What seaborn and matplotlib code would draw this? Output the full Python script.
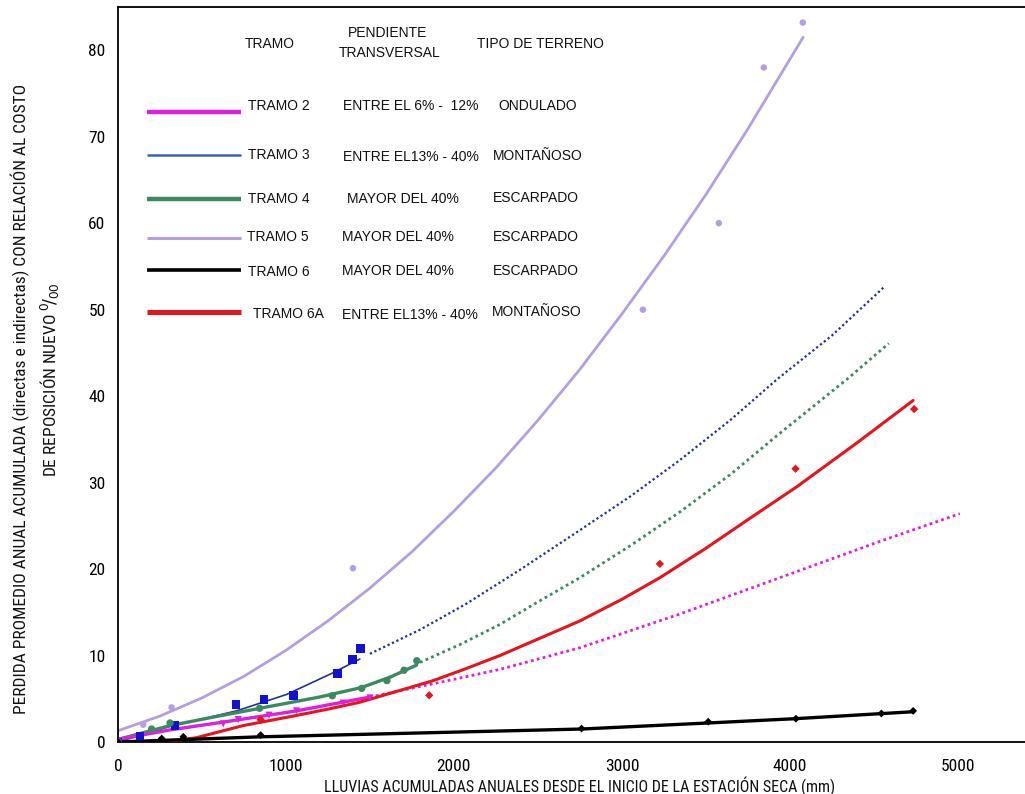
import matplotlib
matplotlib.use("Agg")
import os
import matplotlib.pyplot as plt
import matplotlib.font_manager as fm
import seaborn as sns
import pandas as pd

# ---------------- data ----------------
# Tramo 2 (magenta)
t2_obs_x = [0, 627, 716, 899, 1063, 1341, 1500]
t2_obs_y = [0, 2.1, 2.6, 3.1, 3.6, 4.5, 5.1]
t2_fit_x = [0, 310, 627, 1063, 1500]
t2_fit_y = [0.3, 1.4, 2.3, 3.6, 5.2]
t2_ext_x = [1500, 1917, 2274, 2750, 3345, 3940, 4536, 5012]
t2_ext_y = [5.2, 6.9, 8.4, 10.9, 14.8, 19.0, 23.2, 26.4]

# Tramo 3 (blue)
t3_obs_x = [0, 131, 339, 702, 869, 1044, 1305, 1397, 1446]
t3_obs_y = [0, 0.7, 1.9, 4.3, 4.9, 5.4, 7.9, 9.5, 10.8]
t3_fit_x = [0, 310, 706, 1004, 1280, 1440]
t3_fit_y = [0, 1.8, 3.6, 5.5, 8.0, 9.6]
t3_ext_x = [1500, 1800, 2075, 2400, 2750, 3050, 3345, 3650, 3921, 4250, 4560]
t3_ext_y = [10.2, 13.0, 16.0, 20.0, 24.5, 28.4, 32.6, 37.3, 41.9, 47.0, 52.6]

# Tramo 4 (green)
t4_obs_x = [0, 200, 310, 843, 1276, 1451, 1601, 1703, 1779]
t4_obs_y = [0, 1.5, 2.2, 3.9, 5.35, 6.2, 7.1, 8.3, 9.4]
t4_fit_x = [0, 310, 600, 845, 1200, 1450, 1620, 1778]
t4_fit_y = [0.3, 1.9, 3.0, 3.9, 5.2, 6.3, 7.5, 8.9]
t4_ext_x = [1798, 2050, 2274, 2500, 2750, 3050, 3345, 3650, 3940, 4337, 4589]
t4_ext_y = [9.2, 11.4, 13.6, 16.2, 19.0, 22.7, 26.6, 31.0, 35.7, 41.9, 46.1]

# Tramo 5 (lavender)
t5_obs_x = [150, 319, 1399, 3125, 3577, 3845, 4077]
t5_obs_y = [2.0, 4.0, 20.1, 50.0, 60.0, 78.0, 83.2]
t5_fit_x = [0, 250, 500, 750, 1000, 1250, 1500, 1750, 2000, 2250, 2500, 2750,
            3000, 3250, 3500, 3750, 4079]
t5_fit_y = [1.3, 3.0, 5.1, 7.6, 10.6, 14.0, 17.8, 22.0, 26.7, 31.7, 37.2, 43.1,
            49.5, 56.2, 63.3, 70.9, 81.5]

# Tramo 6 (black)
t6_obs_x = [0, 260, 389, 849, 2760, 3514, 4036, 4545, 4734]
t6_obs_y = [0, 0.4, 0.6, 0.8, 1.55, 2.35, 2.7, 3.3, 3.6]
t6_fit_x = [0, 849, 1700, 2760, 3514, 4036, 4734]
t6_fit_y = [0, 0.6, 1.0, 1.5, 2.2, 2.7, 3.5]

# Tramo 6A (red)
t6a_obs_x = [849, 1853, 3226, 4034, 4740]
t6a_obs_y = [2.6, 5.4, 20.6, 31.6, 38.5]
t6a_fit_x = [280, 468, 746, 1044, 1250, 1440, 1650, 1877, 2074, 2274, 2500, 2750,
             3000, 3226, 3500, 3742, 4040, 4400, 4734]
t6a_fit_y = [0.0, 0.5, 1.9, 3.0, 3.8, 4.6, 5.8, 7.1, 8.5, 10.0, 11.9, 14.0,
             16.5, 19.0, 22.4, 25.6, 29.5, 34.6, 39.5]

x_ticks = [0, 1000, 2000, 3000, 4000, 5000]
y_ticks = [0, 10, 20, 30, 40, 50, 60, 70, 80]

legend_tramos = ["TRAMO 2", "TRAMO 3", "TRAMO 4", "TRAMO 5", "TRAMO 6", "TRAMO 6A"]
legend_pend = ["ENTRE EL 6% -  12%", "ENTRE EL13% - 40%", "MAYOR DEL 40%",
               "MAYOR DEL 40%", "MAYOR DEL 40%", "ENTRE EL13% - 40%"]
legend_terr = ["ONDULADO", "MONTAÑOSO", "ESCARPADO", "ESCARPADO", "ESCARPADO", "MONTAÑOSO"]

# ---------------- style ----------------
sns.set_theme(style="white")
plt.rcParams["font.family"] = ["Liberation Sans", "DejaVu Sans"]

# look for a condensed font file
narrow_path = None
prefs = ["LiberationSansNarrow-Regular", "RobotoCondensed-Regular",
         "DejaVuSansCondensed.ttf", "OpenSans_Condensed-Regular", "OpenSansCondensed"]
files = [f.fname for f in fm.fontManager.ttflist]
for p in prefs:
    for fn in files:
        if p in os.path.basename(fn):
            narrow_path = fn
            break
    if narrow_path:
        break


def nfont(size):
    if narrow_path:
        return fm.FontProperties(fname=narrow_path, size=size)
    return fm.FontProperties(family=["Liberation Sans", "DejaVu Sans"], size=size * 0.86)


C_MAG = "#e01ee0"
C_BLUE_LINE = "#2030a0"
C_BLUE_LEG = "#3a60c8"
C_BLUE_MK = "#1010d8"
C_GREEN = "#3a8c60"
C_LAV = "#b59ee8"
C_BLACK = "#000000"
C_RED = "#e8141c"

W, H = 1025, 794
fig = plt.figure(figsize=(W / 100, H / 100), dpi=100)
L, R, T, B = 118, 1025, 7, 742
ax = fig.add_axes([L / W, 1 - B / H, (R - L) / W, (B - T) / H])


def line(x, y, color, lw, ls="-", z=2):
    df = pd.DataFrame({"x": x, "y": y})
    sns.lineplot(data=df, x="x", y="y", ax=ax, color=color, lw=lw, linestyle=ls,
                 estimator=None, sort=False, zorder=z)


def pts(x, y, color, marker, s):
    df = pd.DataFrame({"x": x, "y": y})
    sns.scatterplot(data=df, x="x", y="y", ax=ax, color=color, marker=marker, s=s,
                    edgecolor="none", linewidth=0, zorder=4)


dot = (0, (1.0, 1.2))
# lavender
line(t5_fit_x, t5_fit_y, C_LAV, 2.0)
pts(t5_obs_x, t5_obs_y, C_LAV, "o", 22)
# blue
line(t3_fit_x, t3_fit_y, C_BLUE_LINE, 1.2)
line(t3_ext_x, t3_ext_y, C_BLUE_LINE, 1.6, dot)
pts(t3_obs_x, t3_obs_y, C_BLUE_MK, "s", 40)
# green
line(t4_fit_x, t4_fit_y, C_GREEN, 2.4)
line(t4_ext_x, t4_ext_y, C_GREEN, 2.0, dot)
pts(t4_obs_x, t4_obs_y, C_GREEN, "o", 28)
# magenta
line(t2_fit_x, t2_fit_y, C_MAG, 2.4)
line(t2_ext_x, t2_ext_y, C_MAG, 2.0, dot)
pts(t2_obs_x, t2_obs_y, C_MAG, "v", 26)
# red
line(t6a_fit_x, t6a_fit_y, C_RED, 2.2, z=3)
pts(t6a_obs_x, t6a_obs_y, C_RED, "D", 18)
# black
line(t6_fit_x, t6_fit_y, C_BLACK, 2.4, z=3)
pts(t6_obs_x, t6_obs_y, C_BLACK, "D", 16)

ax.set_xlim(0, 5400)
ax.set_ylim(0, 85)
ax.set_xticks(x_ticks)
ax.set_yticks(y_ticks)
ax.set_xlabel("")
ax.set_ylabel("")
for sp in ["left", "bottom", "top"]:
    ax.spines[sp].set_color("black")
    ax.spines[sp].set_linewidth(1.3)
ax.spines["right"].set_visible(False)
ax.tick_params(axis="both", direction="out", length=5, width=1.0, color="black",
               labelcolor="black", pad=4)
ax.tick_params(axis="x", pad=7)
for lab in ax.get_xticklabels() + ax.get_yticklabels():
    lab.set_fontproperties(nfont(12.5))
ax.grid(False)

# axis titles
fig.text(580 / W, 1 - 786 / H,
         "LLUVIAS ACUMULADAS ANUALES DESDE EL INICIO DE LA ESTACIÓN SECA (mm)",
         ha="center", va="center", fontproperties=nfont(11.5), color="#111111")
fig.text(20 / W, 1 - 399 / H,
         "PERDIDA PROMEDIO ANUAL ACUMULADA (directas e indirectas) CON RELACIÓN AL COSTO",
         ha="center", va="center", rotation=90, fontproperties=nfont(12.5), color="#111111")
fig.text(50 / W, 1 - 380 / H,
         r"DE REPOSICIÓN NUEVO $^{0}\!/_{00}$",
         ha="center", va="center", rotation=90, fontproperties=nfont(12.5), color="#111111")

# legend table (in axes fraction from pixel positions)
def axf(px, py):
    return (px - L) / (R - L), (B - py) / (B - T)

LEG_FONT = ["Liberation Sans", "DejaVu Sans"]
fs = 10.0
for txt, px, py in [("TRAMO", 270, 44), ("PENDIENTE", 388, 33),
                    ("TRANSVERSAL", 390, 53), ("TIPO DE TERRENO", 540, 44)]:
    x, y = axf(px, py)
    ax.text(x, y, txt, transform=ax.transAxes, ha="center", va="center",
            fontsize=fs, family=LEG_FONT, color="#111111")

leg_colors = [C_MAG, C_BLUE_LEG, C_GREEN, C_LAV, C_BLACK, C_RED]
leg_lw = [3.2, 1.8, 3.2, 2.2, 2.6, 3.6]
leg_line_y = [112, 155, 199, 238, 270, 312]
leg_text_y = [106, 155, 199, 237, 272, 314]
leg_pend_y = [106, 157, 199, 237, 271, 315]
leg_terr_y = [106, 156, 198, 237, 271, 312]
leg_tramo_x = [248, 248, 248, 247, 248, 253]
leg_pend_x = [343, 343, 347, 342, 342, 342]
leg_terr_x = [498, 493, 493, 493, 493, 492]
for i in range(6):
    x0, y0 = axf(147, leg_line_y[i])
    x1, _ = axf(241, leg_line_y[i])
    ax.plot([x0, x1], [y0, y0], transform=ax.transAxes, color=leg_colors[i],
            lw=leg_lw[i], solid_capstyle="butt", clip_on=False)
    x, y = axf(leg_tramo_x[i], leg_text_y[i])
    ax.text(x, y, legend_tramos[i], transform=ax.transAxes, ha="left", va="center",
            fontsize=fs, family=LEG_FONT, color="#111111")
    x, y = axf(leg_pend_x[i], leg_pend_y[i])
    ax.text(x, y, legend_pend[i], transform=ax.transAxes, ha="left", va="center",
            fontsize=fs, family=LEG_FONT, color="#111111")
    x, y = axf(leg_terr_x[i], leg_terr_y[i])
    ax.text(x, y, legend_terr[i], transform=ax.transAxes, ha="left", va="center",
            fontsize=fs, family=LEG_FONT, color="#111111")

fig.savefig("out.png", dpi=100, facecolor="white")
